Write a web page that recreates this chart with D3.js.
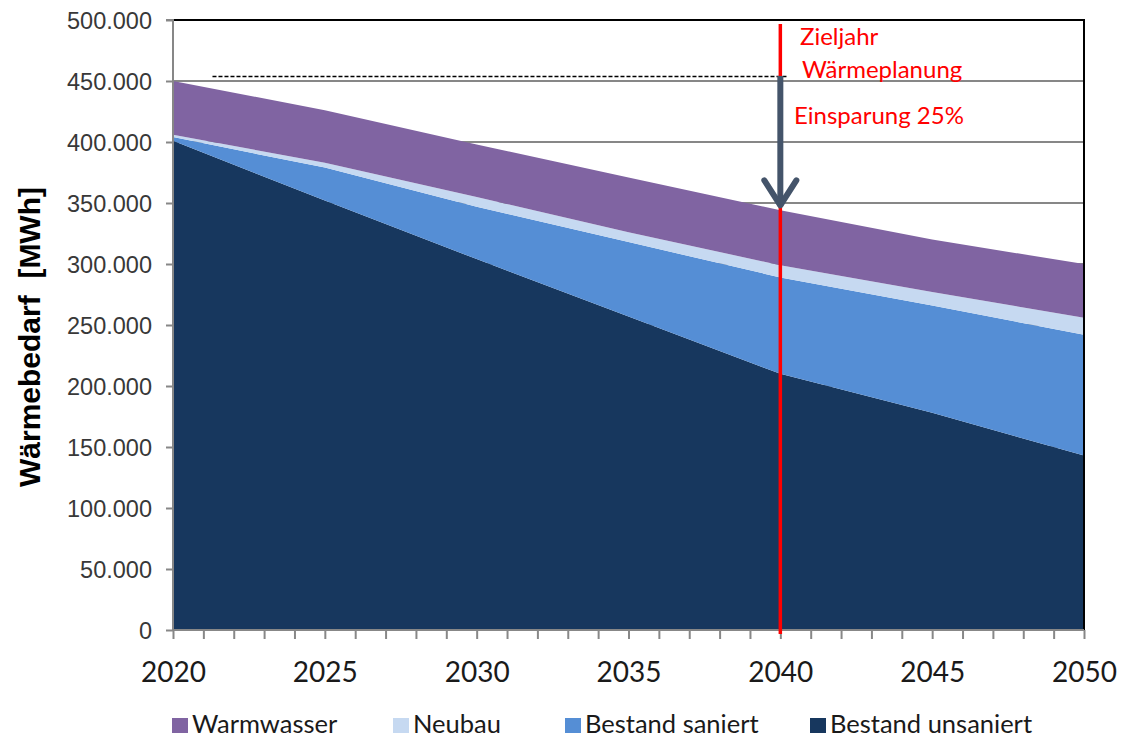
<!DOCTYPE html>
<html><head><meta charset="utf-8">
<script src="https://cdn.jsdelivr.net/npm/d3@7"></script>
<style>body{margin:0;background:#fff;} svg{display:block;}</style>
</head><body>
<svg id="c" width="1123" height="738"></svg>
<script>
const years = [2020, 2025, 2030, 2035, 2040, 2045, 2050];
const bestandUnsaniert = [401000, 352000, 304000, 257000, 210000, 178000, 143000];
const bestandSaniert   = [3000, 27000, 43000, 61000, 79000, 88000, 99000];
const neubau           = [2000, 4000, 8000, 8000, 10000, 11000, 14000];
const warmwasser       = [44000, 43000, 43000, 45000, 45000, 43000, 44000];
const seriesNames = ["Bestand unsaniert", "Bestand saniert", "Neubau", "Warmwasser"];
const seriesColors = ["#17375E", "#558ED5", "#C6D9F1", "#8064A2"];
const legendOrder = ["Warmwasser", "Neubau", "Bestand saniert", "Bestand unsaniert"];
const yTicks = [0, 50000, 100000, 150000, 200000, 250000, 300000, 350000, 400000, 450000, 500000];
const xTickLabels = [2020, 2025, 2030, 2035, 2040, 2045, 2050];
const targetYear = 2040;
const baseValue = 450000;
const savingLabel = "Einsparung 25%";

const svg = d3.select("#c");
const L = 173, R = 1084, T = 20, B = 630;
const x = d3.scaleLinear().domain([2020, 2050]).range([L, R]);
const y = d3.scaleLinear().domain([0, 500000]).range([B, T]);

const table = years.map((yr, i) => ({
  year: yr,
  "Bestand unsaniert": bestandUnsaniert[i],
  "Bestand saniert": bestandSaniert[i],
  "Neubau": neubau[i],
  "Warmwasser": warmwasser[i]
}));
const stacked = d3.stack().keys(seriesNames)(table);
const total = table.map(d => seriesNames.reduce((s, k) => s + d[k], 0));

// gridlines
svg.append("g").selectAll("line").data(yTicks.filter(v => v > 0 && v < 500000)).join("line")
  .attr("x1", L).attr("x2", R).attr("y1", d => y(d)).attr("y2", d => y(d))
  .attr("stroke", "#878787").attr("stroke-width", 2);

// areas
const area = d3.area().x(d => x(d.data.year)).y0(d => y(d[0])).y1(d => y(d[1]));
svg.append("g").selectAll("path").data(stacked).join("path")
  .attr("d", area).attr("fill", (d, i) => seriesColors[i]);

// borders
svg.append("line").attr("x1", L).attr("x2", R + 1).attr("y1", T).attr("y2", T)
  .attr("stroke", "#000").attr("stroke-width", 2);
svg.append("line").attr("x1", R).attr("x2", R).attr("y1", T).attr("y2", B)
  .attr("stroke", "#000").attr("stroke-width", 2);

// y axis
const yAxis = d3.axisLeft(y).tickValues(yTicks).tickSize(7).tickPadding(14)
  .tickFormat(d => d === 0 ? "0" : d3.format(",")(d).replace(/,/g, "."));
const gy = svg.append("g").attr("transform", `translate(${L},0)`).call(yAxis);
gy.select(".domain").attr("stroke", "#878787").attr("stroke-width", 2).attr("d", `M-7,${T}H0V${B + 1}`);
gy.selectAll(".tick line").attr("stroke", "#878787").attr("stroke-width", 2);
gy.selectAll("text").attr("fill", "#383838").attr("dy", "0.36em")
  .style("font-family", "'Liberation Sans', Arial, sans-serif").style("font-size", "23.5px");

// x axis
const xAxis = d3.axisBottom(x).tickValues(d3.range(2020, 2051)).tickSize(9).tickPadding(14)
  .tickFormat(d => xTickLabels.includes(d) ? String(d) : "");
const gx = svg.append("g").attr("transform", `translate(0,${B})`).call(xAxis);
gx.select(".domain").attr("stroke", "#878787").attr("stroke-width", 2).attr("d", `M${L},0H${R}`);
gx.selectAll(".tick line").attr("stroke", "#878787").attr("stroke-width", 2);
gx.selectAll("text").attr("fill", "#1a1a1a").attr("y", 52).attr("dy", null)
  .style("font-family", "Lato, 'Open Sans', sans-serif").style("font-size", "28px");

// y title
svg.append("text").attr("transform", `translate(40,${337}) rotate(-90)`)
  .attr("text-anchor", "middle").attr("fill", "#000")
  .style("white-space", "pre")
  .style("font-family", "'Liberation Sans', Arial, sans-serif").style("font-size", "30px").style("font-weight", "bold")
  .text("Wärmebedarf  [MWh]");

// dashed baseline
svg.append("line").attr("x1", x(2021.3)).attr("x2", x(targetYear) + 8)
  .attr("y1", y(baseValue) - 4.5).attr("y2", y(baseValue) - 4.5)
  .attr("stroke", "#000").attr("stroke-width", 1.6).attr("stroke-dasharray", "4,2");

// red target line
const ti = years.indexOf(targetYear);
svg.append("line").attr("x1", x(targetYear)).attr("x2", x(targetYear))
  .attr("y1", 24).attr("y2", B + 4).attr("stroke", "#FF0000").attr("stroke-width", 3.5);

// arrow
const ax = x(targetYear);
const ay0 = y(baseValue) - 5, ay1 = y(total[ti]);
svg.append("line").attr("x1", ax).attr("x2", ax).attr("y1", ay0).attr("y2", ay1 - 4)
  .attr("stroke", "#44546A").attr("stroke-width", 6);
svg.append("path").attr("d", `M${ax - 16},${ay1 - 30}L${ax},${ay1 - 5}L${ax + 16},${ay1 - 30}`)
  .attr("fill", "none").attr("stroke", "#44546A").attr("stroke-width", 6)
  .attr("stroke-linecap", "round").attr("stroke-linejoin", "round");

// annotations
const annFont = "Lato, 'Open Sans', sans-serif";
svg.append("text").attr("x", 800).attr("y", 45).attr("fill", "#FF0000")
  .style("font-family", annFont).style("font-size", "24px").text("Zieljahr");
svg.append("text").attr("x", 802).attr("y", 78).attr("fill", "#FF0000")
  .style("font-family", annFont).style("font-size", "24px").text("Wärmeplanung");
svg.append("text").attr("x", 794).attr("y", 124).attr("fill", "#FF0000")
  .style("font-family", annFont).style("font-size", "24px").text(savingLabel);

// legend
const legX = [172, 393, 565, 810];
const lg = svg.append("g").selectAll("g").data(legendOrder).join("g")
  .attr("transform", (d, i) => `translate(${legX[i]},0)`);
lg.append("rect").attr("x", 0).attr("y", 718).attr("width", 16).attr("height", 15)
  .attr("fill", d => seriesColors[seriesNames.indexOf(d)]);
lg.append("text").attr("x", 20).attr("y", 733).attr("fill", "#1a1a1a")
  .style("font-family", "Lato, 'Open Sans', sans-serif").style("font-size", "25.5px")
  .text(d => d);
</script>
</body></html>
